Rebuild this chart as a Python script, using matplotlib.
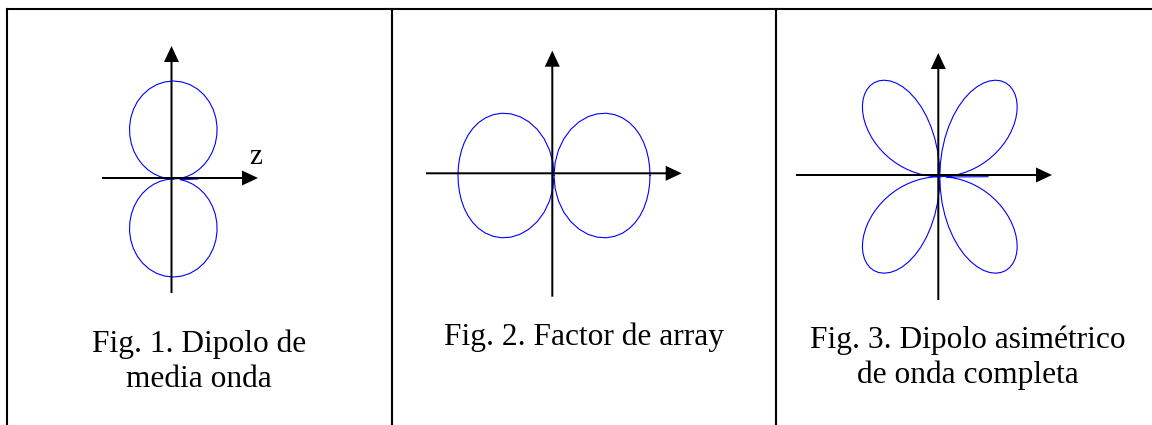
import numpy as np
import matplotlib
matplotlib.use("Agg")
import matplotlib.pyplot as plt

# Polar angle from the z axis (degrees), one quadrant; the patterns are
# symmetric about both axes, so the other quadrants are mirrored.
theta_deg = [0, 5, 10, 15, 20, 25, 30, 35, 40, 45,
             50, 55, 60, 65, 70, 75, 80, 85, 90]
# finer grid for the narrow four-lobe pattern
theta_fine_deg = [0, 2.5, 5, 7.5, 10, 12.5, 15, 17.5, 20, 22.5, 25, 27.5,
                  30, 32.5, 35, 37.5, 40, 42.5, 45, 47.5, 50, 52.5, 55, 57.5,
                  60, 62.5, 65, 67.5, 70, 72.5, 75, 77.5, 80, 82.5, 85, 87.5,
                  90]

# Fig. 1: half-wave dipole field pattern
dipole_r = [0.0, 0.0686, 0.1374, 0.2067, 0.2766, 0.3470, 0.4178, 0.4886,
            0.5589, 0.6279, 0.6945, 0.7579, 0.8165, 0.8691, 0.9143, 0.9509,
            0.9779, 0.9944, 1.0]

# Fig. 2: array factor
array_r = [1.0, 1.0, 0.9997, 0.9986, 0.9955, 0.9892, 0.9779, 0.9599,
           0.9332, 0.8960, 0.8467, 0.7840, 0.7071, 0.6162, 0.5117, 0.3954,
           0.2694, 0.1365, 0.0]

# Fig. 3: asymmetric full-wave dipole (on the fine grid)
fullwave_r = [0.0, 0.0343, 0.0686, 0.1029, 0.1374, 0.1719, 0.2064, 0.2409,
              0.2754, 0.3095, 0.3433, 0.3763, 0.4086, 0.4396, 0.4690, 0.4965,
              0.5216, 0.5438, 0.5626, 0.5776, 0.5880, 0.5938, 0.5942, 0.5888,
              0.5773, 0.5596, 0.5355, 0.5049, 0.4678, 0.4248, 0.3760, 0.3220,
              0.2634, 0.2011, 0.1357, 0.0684, 0.0]

# Radius of the very first sample of each sweep (None: same as table)
first_sample_r = [0.25, None, 0.25]

captions = [
    ["Fig. 1. Dipolo de", "media onda"],
    ["Fig. 2. Factor de array"],
    ["Fig. 3. Dipolo asimétrico", "de onda completa"],
]
axis_label = "z"

W, H = 1152, 425
fig = plt.figure(figsize=(W / 100, H / 100), dpi=100)
fig.patch.set_facecolor("white")

SERIF = ["Liberation Serif", "DejaVu Serif"]

# Background layer in pixel units: table rules and captions
base = fig.add_axes([0, 0, 1, 1])
base.set_xlim(0, W)
base.set_ylim(H, 0)
base.axis("off")

rule = dict(color="black", lw=1.5, solid_capstyle="projecting")
base.plot([7, W], [9, 9], **rule)
for x in (7, 392, 776):
    base.plot([x, x], [9, H + 2], **rule)

caption_x = [199, 584, 968]
caption_baselines = [[352, 387], [345.5], [348, 383]]
for cx, lines, ys in zip(caption_x, captions, caption_baselines):
    for line, y in zip(lines, ys):
        base.text(cx, y, line, ha="center", va="baseline",
                  fontsize=22.6, family=SERIF, color="black")

base.text(256, 164, axis_label, ha="center", va="baseline",
          fontsize=21, family=SERIF, color="black")


def full_sweep(angles, radii, first):
    """Mirror one quadrant into a clockwise sweep of the full circle."""
    q = np.asarray(radii, dtype=float)
    th = np.asarray(angles, dtype=float)
    # 0..90 -> 90..180 -> 180..270 -> 270..360 (all mirror images)
    ang = np.concatenate([th, 180 - th[::-1][1:], 180 + th[1:], 360 - th[::-1][1:]])
    rad = np.concatenate([q, q[::-1][1:], q[1:], q[::-1][1:]])
    # sweep clockwise starting on the +z axis
    ang = -ang
    if first is not None:
        rad = rad.copy()
        rad[0] = first
    return np.deg2rad(ang), rad


# Layout of each diagram (image pixels): pattern centre, axes crossing,
# pixels per unit, axis extents (left, right, down, up) from the crossing
panels = [
    dict(th=theta_deg, r=dipole_r, first=first_sample_r[0],
         centre=(173.3, 179.0), cross=(171.5, 178.0), scale=98.0,
         ext=(69.5, 86.5, 115, 132)),
    dict(th=theta_deg, r=array_r, first=first_sample_r[1],
         centre=(554.0, 175.5), cross=(552.3, 173.3), scale=96.0,
         ext=(126.3, 129.4, 123.4, 122.6)),
    dict(th=theta_fine_deg, r=fullwave_r, first=first_sample_r[2],
         centre=(939.8, 176.7), cross=(938.3, 175.0), scale=193.0,
         ext=(142.3, 113.7, 125, 122)),
]

HW, HH = 170, 150  # half size of each diagram axes, pixels
for p in panels:
    cx, cy = p["centre"]
    s = p["scale"]
    ax = fig.add_axes([(cx - HW) / W, (H - (cy + HH)) / H, 2 * HW / W, 2 * HH / H])
    ax.set_xlim(-HW / s, HW / s)
    ax.set_ylim(-HH / s, HH / s)
    ax.set_facecolor("none")
    ax.axis("off")

    ang, rad = full_sweep(p["th"], p["r"], p["first"])
    ax.plot(rad * np.cos(ang), rad * np.sin(ang), color="#0000ff", lw=0.8,
            zorder=2)

    # coordinate axes with solid arrow heads
    ox = (p["cross"][0] - cx) / s
    oy = -(p["cross"][1] - cy) / s
    left, right, down, up = (e / s for e in p["ext"])
    arrow = dict(width=2.0 / s, head_width=15.0 / s, head_length=16.0 / s,
                 length_includes_head=True, fc="black", ec="none", zorder=3)
    ax.arrow(ox - left, oy, left + right, 0, **arrow)
    ax.arrow(ox, oy - down, 0, down + up, **arrow)

fig.savefig("out.png", dpi=100, facecolor="white")
